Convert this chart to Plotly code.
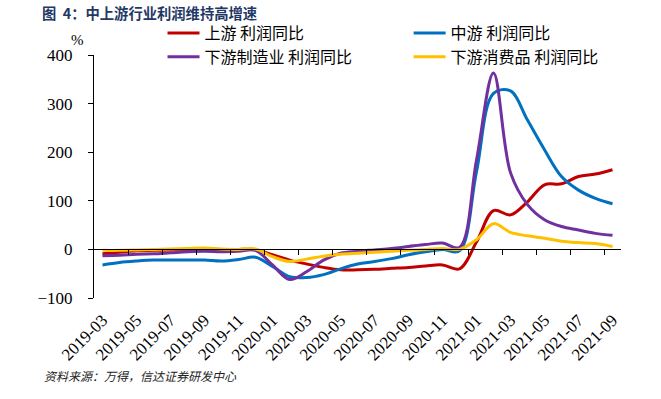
import plotly.graph_objects as go

months = ["2019-03","2019-04","2019-05","2019-06","2019-07","2019-08","2019-09","2019-10",
          "2019-11","2019-12","2020-01","2020-02","2020-03","2020-04","2020-05","2020-06",
          "2020-07","2020-08","2020-09","2020-10","2020-11","2020-12","2021-01","2021-02",
          "2021-03","2021-04","2021-05","2021-06","2021-07","2021-08","2021-09"]

upstream = [-9, -6, -3, -2, -1, -1, -1, -1, 0, -1, -11, -22, -30, -37, -42, -42,
            -41, -39, -37, -34, -32, -40, 15, 80, 71, 98, 133, 135, 150, 155, 164]
midstream = [-32, -27, -24, -22, -22, -22, -22, -24, -21, -16, -35, -56, -58, -52, -40, -30,
             -25, -19, -11, -5, 0, -3, 160, 321, 326, 266, 205, 150, 122, 105, 94]
down_mfg = [-13, -12, -10, -9, -7, -5, -4, -5, -4, -2, -32, -62, -46, -22, -8, -4,
            -1, 2, 6, 10, 13, 4, 184, 363, 158, 92, 61, 47, 40, 33, 29]
down_cons = [-2, -2, -1, 0, 1, 2, 3, 1, 0, 1, -15, -25, -20, -14, -10, -8,
             -6, -4, -2, 0, 2, 0, 20, 53, 35, 28, 23, 17, 14, 12, 6]

series_names = ["上游 利润同比", "中游 利润同比", "下游制造业 利润同比", "下游消费品 利润同比"]
series_vals = [upstream, midstream, down_mfg, down_cons]
series_colors = ["#C00000", "#0070C0", "#7030A0", "#FFC000"]
series_legend = ["legend", "legend2", "legend", "legend2"]

y_ticks = [-100, 0, 100, 200, 300, 400]

idx = list(range(len(months)))
label_idx = idx[::2]
label_txt = months[::2]
boundaries = [i + 1.5 for i in idx[:-1:2]]

fig = go.Figure()
for name, vals, col, lg in zip(series_names, series_vals, series_colors, series_legend):
    fig.add_trace(go.Scatter(x=idx, y=vals, name=name, mode="lines", legend=lg,
                             line=dict(color=col, width=3, shape="spline"),
                             hoverinfo="skip"))
# helper trace for the zero-line axis
fig.add_trace(go.Scatter(x=[], y=[], xaxis="x2", showlegend=False, hoverinfo="skip"))

serif = "Liberation Serif"
cjk = "Noto Sans CJK SC"

legend_common = dict(orientation="v", yanchor="top", xanchor="left",
                     font=dict(family=cjk, size=16, color="black"),
                     bgcolor="rgba(0,0,0,0)", itemwidth=32, tracegroupgap=0)

fig.update_layout(
    width=661, height=399,
    margin=dict(l=94, r=40, t=55, b=101),
    paper_bgcolor="white", plot_bgcolor="white",
    title=dict(text="<b>图&nbsp;&nbsp;4：中上游行业利润维持高增速</b>", x=42/661, y=1-14/399,
               xanchor="left", yanchor="middle", xref="container", yref="container",
               font=dict(family=cjk, size=14.3, color="#1F3864")),
    legend=dict(x=0.130, y=1.160, **legend_common),
    legend2=dict(x=0.597, y=1.160, **legend_common),
    xaxis=dict(range=[-0.5, len(months) - 0.5], tickmode="array", tickvals=label_idx,
               ticktext=label_txt, tickangle=-45, showline=False, ticks="",
               showgrid=False, zeroline=False, ticklabelstandoff=8,
               tickfont=dict(family=serif, size=17, color="black")),
    xaxis2=dict(range=[-0.5, len(months) - 0.5], overlaying="x", anchor="free",
                position=0.2, side="bottom", showline=True, linecolor="black", linewidth=1,
                ticks="outside", ticklen=5, tickcolor="black", tickmode="array",
                tickvals=boundaries, showticklabels=False, showgrid=False, zeroline=False),
    yaxis=dict(range=[-100, 400], tickmode="array", tickvals=y_ticks, showline=True,
               linecolor="black", linewidth=1, ticks="outside", ticklen=5,
               tickcolor="black", showgrid=False, zeroline=False, ticklabelstandoff=12,
               tickfont=dict(family=serif, size=17, color="black")),
    annotations=[
        dict(text="%", xref="paper", yref="paper", x=(77-94)/527, y=1+(55-40)/243,
             xanchor="center", yanchor="middle", showarrow=False,
             font=dict(family=serif, size=15, color="black")),
        dict(text="<i>资料来源：万得，信达证券研发中心</i>", xref="paper", yref="paper",
             x=(42-94)/527, y=(298-375)/243, xanchor="left", yanchor="middle",
             showarrow=False, font=dict(family=cjk, size=12, color="#222222")),
    ],
)

fig.write_html("out.html", post_script="document.body.style.margin='0';",
               config={"displayModeBar": False})
